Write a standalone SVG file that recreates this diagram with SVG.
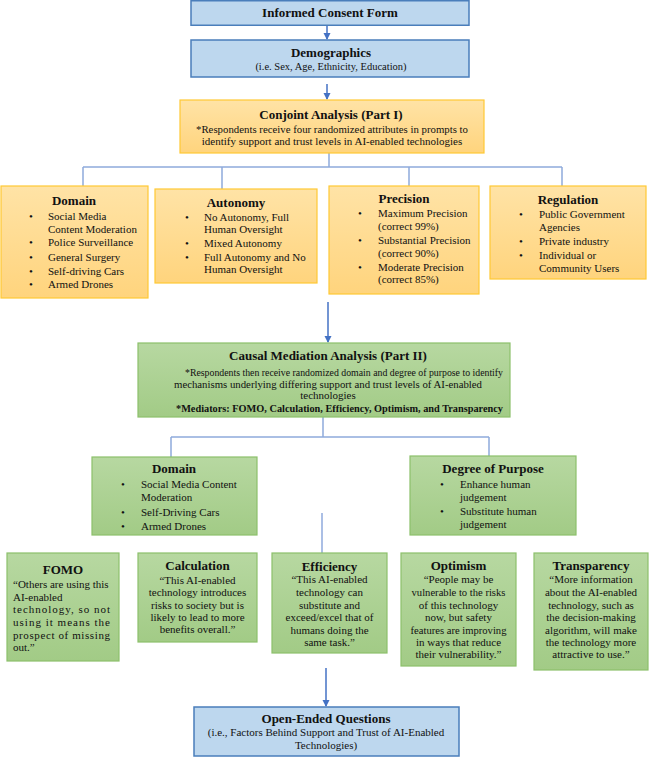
<svg xmlns="http://www.w3.org/2000/svg" width="649" height="757" viewBox="0 0 649 757" font-family="'Liberation Serif', 'Times New Roman', serif">
<defs>
<linearGradient id="gOr" x1="0" y1="0" x2="0" y2="1"><stop offset="0" stop-color="#FFE3A6"/><stop offset="1" stop-color="#FFD47D"/></linearGradient>
<linearGradient id="gGr" x1="0" y1="0" x2="0" y2="1"><stop offset="0" stop-color="#B7D8A1"/><stop offset="1" stop-color="#A2CB86"/></linearGradient>
<marker id="arr" markerWidth="8" markerHeight="8" refX="6" refY="4" orient="auto" markerUnits="userSpaceOnUse"><path d="M0,0.5 L7,4 L0,7.5 z" fill="#4472C4"/></marker>
<style>
text{font-family:'Liberation Serif','Times New Roman',serif;fill:#111;}
.t{font-size:13px;font-weight:bold;text-anchor:middle;}
.b{font-size:11px;}
.c{font-size:11px;text-anchor:middle;}
.m{text-anchor:middle;}
.blue{fill:#BDD7EE;stroke:#4A7EBB;stroke-width:1.5;}
.or{fill:url(#gOr);stroke:#FFC934;stroke-width:1.2;}
.gr{fill:url(#gGr);stroke:#8CC06B;stroke-width:1.2;}
.tree{fill:none;stroke:#8FAADC;stroke-width:1.5;}
.ar{fill:none;stroke:#4472C4;stroke-width:1.5;marker-end:url(#arr);}
</style>
</defs>

<g id="connectors">
<line class="ar" x1="327" y1="25" x2="327" y2="39"/>
<line class="ar" x1="327" y1="84" x2="327" y2="99"/>
<path class="tree" d="M329,153 V167 M83,167 H562 M83,167 V186 M222,167 V189 M409,167 V186 M562,167 V186"/>
<line class="ar" x1="328" y1="302" x2="328" y2="342"/>
<path class="tree" d="M323,417 V437 M171,437 H489 M171,437 V457 M489,437 V456"/>
<line class="tree" x1="322" y1="513" x2="322" y2="553"/>
<line class="ar" x1="326" y1="668" x2="326" y2="706"/>
</g>

<g id="consent">
<rect class="blue" x="191" y="0.75" width="278" height="24.5"/>
<text class="t" x="330" y="17">Informed Consent Form</text>
</g>

<g id="demographics">
<rect class="blue" x="191" y="40" width="278" height="37"/>
<text class="t" x="331" y="57">Demographics</text>
<text class="c" x="331" y="70" style="font-size:10.5px">(i.e. Sex, Age, Ethnicity, Education)</text>
</g>

<g id="conjoint">
<rect class="or" x="180" y="100" width="304" height="53"/>
<text class="t" x="331" y="119">Conjoint Analysis (Part I)</text>
<text class="b" x="196" y="133" textLength="272" lengthAdjust="spacingAndGlyphs">*Respondents receive four randomized attributes in prompts to</text>
<text class="c" x="332" y="145">identify support and trust levels in AI-enabled technologies</text>
</g>

<g id="domain1">
<rect class="or" x="1" y="186" width="147" height="112"/>
<text class="t" x="74" y="205">Domain</text>
<g class="b">
<text x="31" y="219.5" class="m">•</text><text x="48" y="219.5">Social Media</text>
<text x="48" y="232.5">Content Moderation</text>
<text x="31" y="246" class="m">•</text><text x="48" y="246">Police Surveillance</text>
<text x="31" y="260.5" class="m">•</text><text x="48" y="260.5">General Surgery</text>
<text x="31" y="274.5" class="m">•</text><text x="48" y="274.5">Self-driving Cars</text>
<text x="31" y="288" class="m">•</text><text x="48" y="288">Armed Drones</text>
</g>
</g>

<g id="autonomy">
<rect class="or" x="155" y="189" width="162" height="94"/>
<text class="t" x="236" y="206.5">Autonomy</text>
<g class="b">
<text x="187" y="220.5" class="m">•</text><text x="204" y="220.5">No Autonomy, Full</text>
<text x="204" y="233">Human Oversight</text>
<text x="187" y="246.5" class="m">•</text><text x="204" y="246.5">Mixed Autonomy</text>
<text x="187" y="260.5" class="m">•</text><text x="204" y="260.5">Full Autonomy and No</text>
<text x="204" y="273">Human Oversight</text>
</g>
</g>

<g id="precision">
<rect class="or" x="329" y="186" width="150" height="108"/>
<text class="t" x="404" y="202.5">Precision</text>
<g class="b">
<text x="360" y="216.5" class="m">•</text><text x="378" y="216.5">Maximum Precision</text>
<text x="378" y="230">(correct 99%)</text>
<text x="360" y="243.5" class="m">•</text><text x="378" y="243.5">Substantial Precision</text>
<text x="378" y="257">(correct 90%)</text>
<text x="360" y="270.5" class="m">•</text><text x="378" y="270.5">Moderate Precision</text>
<text x="378" y="283">(correct 85%)</text>
</g>
</g>

<g id="regulation">
<rect class="or" x="490" y="186" width="156" height="93"/>
<text class="t" x="568" y="203.5">Regulation</text>
<g class="b">
<text x="521" y="217.5" class="m">•</text><text x="539" y="217.5">Public Government</text>
<text x="539" y="231">Agencies</text>
<text x="521" y="244.5" class="m">•</text><text x="539" y="244.5">Private industry</text>
<text x="521" y="258.5" class="m">•</text><text x="539" y="258.5">Individual or</text>
<text x="539" y="271.5">Community Users</text>
</g>
</g>

<g id="causal">
<rect class="gr" x="138" y="343" width="372" height="74"/>
<text class="t" x="328" y="360">Causal Mediation Analysis (Part II)</text>
<text class="b" x="185" y="376" textLength="318" lengthAdjust="spacingAndGlyphs">*Respondents then receive randomized domain and degree of purpose to identify</text>
<text class="b" x="174" y="387.5" textLength="308" lengthAdjust="spacingAndGlyphs">mechanisms underlying differing support and trust levels of AI-enabled</text>
<text class="c" x="328" y="399">technologies</text>
<text class="b" x="176" y="412" textLength="327" lengthAdjust="spacingAndGlyphs" style="font-weight:bold">*Mediators: FOMO, Calculation, Efficiency, Optimism, and Transparency</text>
</g>

<g id="domain2">
<rect class="gr" x="92" y="457" width="165" height="78"/>
<text class="t" x="174" y="473">Domain</text>
<g class="b">
<text x="123" y="487.5" class="m">•</text><text x="141" y="487.5">Social Media Content</text>
<text x="141" y="500.5">Moderation</text>
<text x="123" y="515.5" class="m">•</text><text x="141" y="515.5">Self-Driving Cars</text>
<text x="123" y="529.5" class="m">•</text><text x="141" y="529.5">Armed Drones</text>
</g>
</g>

<g id="purpose">
<rect class="gr" x="410" y="456" width="166" height="79"/>
<text class="t" x="493" y="473">Degree of Purpose</text>
<g class="b">
<text x="442" y="487.5" class="m">•</text><text x="460" y="487.5">Enhance human</text>
<text x="460" y="500.5">judgement</text>
<text x="442" y="514.5" class="m">•</text><text x="460" y="514.5">Substitute human</text>
<text x="460" y="527.5">judgement</text>
</g>
</g>

<g id="fomo">
<rect class="gr" x="7" y="553" width="112" height="108"/>
<text class="t" x="63" y="574">FOMO</text>
<g class="b">
<text x="13" y="587.5">“Others are using this</text>
<text x="13" y="600.5">AI-enabled</text>
<text x="13" y="613" textLength="97" lengthAdjust="spacing">technology, so not</text>
<text x="13" y="626" textLength="97" lengthAdjust="spacing">using it means the</text>
<text x="13" y="638.5" textLength="97" lengthAdjust="spacing">prospect of missing</text>
<text x="13" y="651">out.”</text>
</g>
</g>

<g id="calculation">
<rect class="gr" x="138" y="553" width="119" height="89"/>
<text class="t" x="197.5" y="570">Calculation</text>
<text class="c" x="197.5" y="583.5">“This AI-enabled</text>
<text class="c" x="197.5" y="595.5">technology introduces</text>
<text class="c" x="197.5" y="608.5">risks to society but is</text>
<text class="c" x="197.5" y="620.5">likely to lead to more</text>
<text class="c" x="197.5" y="632.5">benefits overall.”</text>
</g>

<g id="efficiency">
<rect class="gr" x="272" y="553" width="115" height="100"/>
<text class="t" x="329.5" y="571">Efficiency</text>
<text class="c" x="329.5" y="583">“This AI-enabled</text>
<text class="c" x="329.5" y="595.5">technology can</text>
<text class="c" x="329.5" y="608.5">substitute and</text>
<text class="c" x="329.5" y="620.5">exceed/excel that of</text>
<text class="c" x="329.5" y="633.5">humans doing the</text>
<text class="c" x="329.5" y="645.5">same task.”</text>
</g>

<g id="optimism">
<rect class="gr" x="401" y="553" width="115" height="113"/>
<text class="t" x="458.5" y="570">Optimism</text>
<text class="c" x="458.5" y="582.5">“People may be</text>
<text class="c" x="458.5" y="595.5" style="font-size:10.6px">vulnerable to the risks</text>
<text class="c" x="458.5" y="608.5">of this technology</text>
<text class="c" x="458.5" y="620.5">now, but safety</text>
<text class="c" x="458.5" y="633.5" style="font-size:10.6px">features are improving</text>
<text class="c" x="458.5" y="645.5">in ways that reduce</text>
<text class="c" x="458.5" y="657.5">their vulnerability.”</text>
</g>

<g id="transparency">
<rect class="gr" x="534" y="553" width="114" height="117"/>
<text class="t" x="591" y="570">Transparency</text>
<text class="c" x="591" y="582.5">“More information</text>
<text class="c" x="591" y="595.5">about the AI-enabled</text>
<text class="c" x="591" y="608.5">technology, such as</text>
<text class="c" x="591" y="620.5">the decision-making</text>
<text class="c" x="591" y="633.5">algorithm, will make</text>
<text class="c" x="591" y="645.5">the technology more</text>
<text class="c" x="591" y="658">attractive to use.”</text>
</g>

<g id="openended">
<rect class="blue" x="194" y="707" width="265" height="49"/>
<text class="t" x="326" y="723">Open-Ended Questions</text>
<text class="c" x="326" y="736">(i.e., Factors Behind Support and Trust of AI-Enabled</text>
<text class="c" x="326" y="749">Technologies)</text>
</g>
</svg>
